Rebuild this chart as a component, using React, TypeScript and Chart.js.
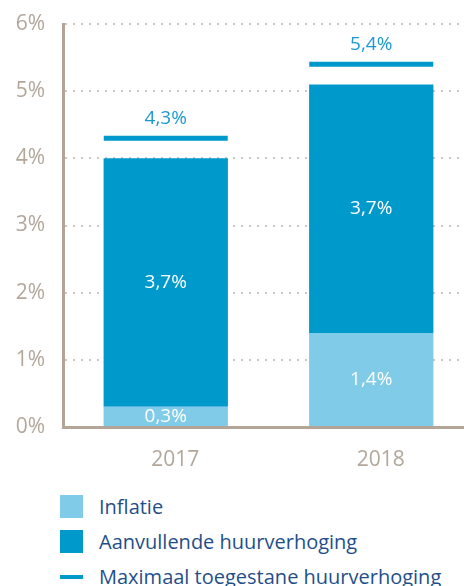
import React, { useEffect, useRef } from 'react';
import { Chart, registerables } from 'chart.js';

Chart.register(...registerables);

const categories = ['2017', '2018'];
const inflatie = [0.3, 1.4];
const aanvullend = [3.7, 3.7];
const maximaal = [4.3, 5.4];
const seriesLabels = ['Inflatie', 'Aanvullende huurverhoging', 'Maximaal toegestane huurverhoging'];
const seriesColors = ['#80cbe7', '#0099cc', '#0099cc'];
const yMin = 0;
const yMax = 6;
const yStep = 1;

const FONT = '"Open Sans", "Noto Sans", sans-serif';
const AXIS_COLOR = '#b3a699';
const TICK_COLOR = '#b3a79a';
const TOP_LABEL_COLOR = '#1b9ad2';
const LEGEND_TEXT = '#1f4f8a';

const fmt = (v: number) => v.toFixed(1).replace('.', ',') + '%';

const valueLabelPlugin = {
  id: 'valueLabels',
  afterDatasetsDraw(chart: any) {
    const ctx = chart.ctx;
    ctx.save();
    ctx.font = `19px ${FONT}`;
    ctx.textAlign = 'center';
    ctx.textBaseline = 'middle';
    const stackVals = [inflatie, aanvullend];
    [0, 1].forEach((di) => {
      const meta = chart.getDatasetMeta(di);
      meta.data.forEach((el: any, i: number) => {
        const p = el.getProps(['x', 'y', 'base'], true);
        ctx.fillStyle = '#ffffff';
        ctx.fillText(fmt(stackVals[di][i]), p.x, (p.y + p.base) / 2);
      });
    });
    const lm = chart.getDatasetMeta(2);
    lm.data.forEach((pt: any, i: number) => {
      ctx.fillStyle = TOP_LABEL_COLOR;
      ctx.fillText(fmt(maximaal[i]), pt.x, pt.y - 20);
    });
    ctx.restore();
  },
};

function ChartCanvas() {
  const ref = useRef<HTMLCanvasElement | null>(null);
  useEffect(() => {
    if (!ref.current) return;
    const chart = new Chart(ref.current, {
      data: {
        labels: categories,
        datasets: [
          {
            type: 'bar',
            label: seriesLabels[0],
            data: inflatie,
            backgroundColor: seriesColors[0],
            barPercentage: 0.605,
            categoryPercentage: 1,
          },
          {
            type: 'bar',
            label: seriesLabels[1],
            data: aanvullend,
            backgroundColor: seriesColors[1],
            barPercentage: 0.605,
            categoryPercentage: 1,
          },
          {
            type: 'line',
            label: seriesLabels[2],
            data: maximaal,
            stack: 'max',
            showLine: false,
            pointStyle: 'line',
            pointRadius: 62,
            pointHoverRadius: 62,
            borderColor: seriesColors[2],
            backgroundColor: seriesColors[2],
            pointBorderWidth: 5,
            borderWidth: 5,
            clip: false,
          } as any,
        ],
      },
      options: {
        responsive: true,
        maintainAspectRatio: false,
        animation: false,
        devicePixelRatio: 1,
        layout: { autoPadding: false, padding: { top: 24, right: 0, bottom: 0, left: 0 } },
        plugins: {
          legend: { display: false },
          tooltip: { enabled: false },
        },
        scales: {
          x: {
            stacked: true,
            grid: { display: false },
            border: { display: true, color: AXIS_COLOR, width: 3 },
            ticks: {
              color: TICK_COLOR,
              font: { family: FONT, size: 21, weight: 400 as any },
              padding: 12,
              labelOffset: 9.5,
            },
            afterFit: (s: any) => {
              s.height = 48;
              s.paddingLeft = 0;
              s.paddingRight = 0;
            },
          },
          y: {
            stacked: true,
            min: yMin,
            max: yMax,
            grid: {
              color: (c: any) => (c.tick && c.tick.value === 0 ? 'rgba(0,0,0,0)' : '#cfc7bf'),
              lineWidth: 2,
              drawTicks: false,
            },
            border: { display: true, color: AXIS_COLOR, width: 3, dash: [2, 6] },
            ticks: {
              stepSize: yStep,
              color: TICK_COLOR,
              font: { family: FONT, size: 21, weight: 400 as any },
              padding: 18,
              callback: (v: any) => `${v}%`,
            },
            afterFit: (s: any) => {
              s.width = 63;
              s.paddingTop = 0;
              s.paddingBottom = 0;
            },
          },
        },
      },
      plugins: [valueLabelPlugin],
    } as any);
    return () => chart.destroy();
  }, []);
  return (
    <div style={{ position: 'relative', width: 474, height: 475 }}>
      <canvas ref={ref} />
    </div>
  );
}

export default function App() {
  useEffect(() => {
    document.body.style.margin = '0';
  }, []);
  const kinds = ['box', 'box', 'line'];
  return (
    <div style={{ position: 'relative', width: 464, height: 586, overflow: 'hidden', background: '#fff' }}>
      <ChartCanvas />
      <div style={{ position: 'absolute', top: 489, left: 60 }}>
        {seriesLabels.map((lab, i) => (
          <div key={lab} style={{ display: 'flex', alignItems: 'center', height: 35 }}>
            <div
              style={{
                width: 23,
                height: kinds[i] === 'box' ? 23 : 4,
                background: seriesColors[i],
                flex: '0 0 auto',
              }}
            />
            <span
              style={{
                marginLeft: 16,
                fontFamily: FONT,
                fontSize: 20,
                color: LEGEND_TEXT,
                whiteSpace: 'nowrap',
                lineHeight: '35px',
              }}
            >
              {lab}
            </span>
          </div>
        ))}
      </div>
    </div>
  );
}
